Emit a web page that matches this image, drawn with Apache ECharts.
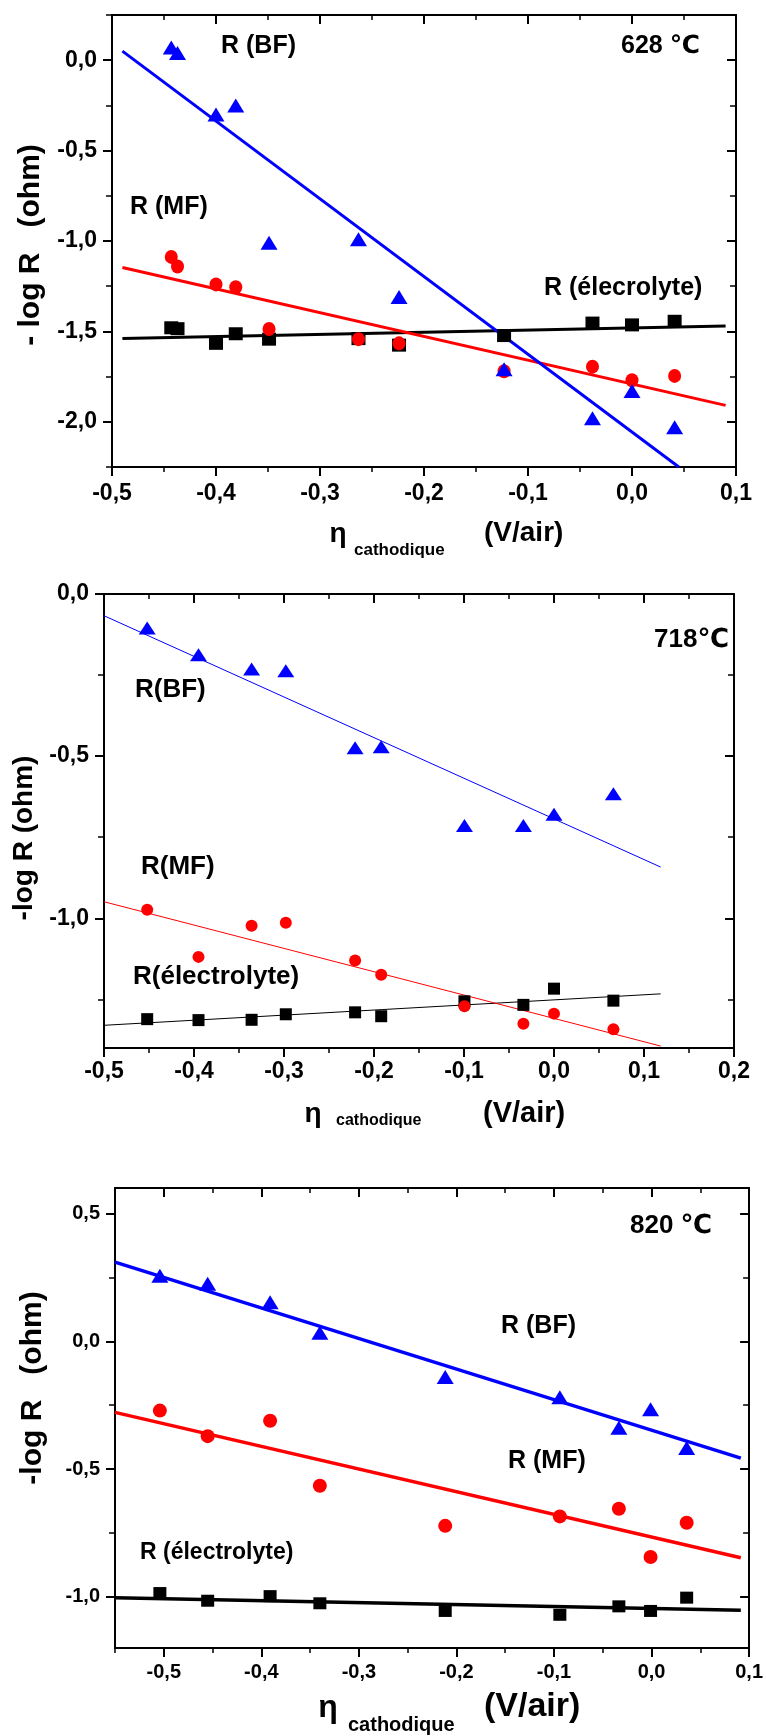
<!DOCTYPE html>
<html><head><meta charset="utf-8">
<script src="https://cdn.jsdelivr.net/npm/echarts@6/dist/echarts.min.js"></script>
<style>html,body{margin:0;padding:0;background:#fff}#c{width:766px;height:1736px}</style>
</head><body><div id="c"></div>
<script>
// ---------- 628 °C ----------
const eta628 = [-0.443, -0.437, -0.400, -0.381, -0.349, -0.263, -0.224, -0.123, -0.038, 0.000, 0.041];
const bf628  = [0.07, 0.04, -0.30, -0.25, -1.01, -0.99, -1.31, -1.71, -1.98, -1.83, -2.03];
const mf628  = [-1.088, -1.141, -1.24, -1.256, -1.487, -1.543, -1.566, -1.72, -1.695, -1.77, -1.746];
const el628  = [-1.48, -1.485, -1.566, -1.513, -1.543, -1.54, -1.576, -1.523, -1.454, -1.464, -1.444];
const fitBF628 = [[-0.49, 0.05], [0.045, -2.25]];
const fitMF628 = [[-0.49, -1.147], [0.09, -1.909]];
const fitEL628 = [[-0.49, -1.539], [0.09, -1.47]];
const xMajor628 = [-0.5, -0.4, -0.3, -0.2, -0.1, 0.0, 0.1];
const xMinor628 = [-0.5, -0.45, -0.4, -0.35, -0.3, -0.25, -0.2, -0.15, -0.1, -0.05, 0.0, 0.05, 0.1];
const yMajor628 = [0.0, -0.5, -1.0, -1.5, -2.0];
const yMinor628 = [0.25, 0.0, -0.25, -0.5, -0.75, -1.0, -1.25, -1.5, -1.75, -2.0, -2.25];

// ---------- 718 °C ----------
const eta718 = [-0.452, -0.395, -0.336, -0.298, -0.221, -0.192, -0.0995, -0.034, 0.000, 0.066];
const bf718  = [-0.105, -0.187, -0.231, -0.237, -0.474, -0.471, -0.714, -0.714, -0.679, -0.616];
const mf718  = [-0.974, -1.119, -1.023, -1.014, -1.130, -1.174, -1.271, -1.325, -1.294, -1.342];
const el718  = [-1.311, -1.314, -1.313, -1.296, -1.290, -1.302, -1.256, -1.267, -1.217, -1.254];
const fitBF718 = [[-0.5, -0.067], [0.1185, -0.842]];
const fitMF718 = [[-0.5, -0.949], [0.1185, -1.394]];
const fitEL718 = [[-0.5, -1.330], [0.1185, -1.233]];
const xMajor718 = [-0.5, -0.4, -0.3, -0.2, -0.1, 0.0, 0.1, 0.2];
const xMinor718 = [-0.5, -0.45, -0.4, -0.35, -0.3, -0.25, -0.2, -0.15, -0.1, -0.05, 0.0, 0.05, 0.1, 0.15, 0.2];
const yMajor718 = [0.0, -0.5, -1.0];
const yMinor718 = [0.0, -0.25, -0.5, -0.75, -1.0, -1.25];

// ---------- 820 °C ----------
const eta820 = [-0.504, -0.455, -0.391, -0.340, -0.2115, -0.094, -0.0335, -0.001, 0.036];
const bf820  = [0.257, 0.225, 0.153, 0.034, -0.140, -0.219, -0.338, -0.266, -0.417];
const mf820  = [-0.271, -0.371, -0.311, -0.565, -0.722, -0.685, -0.655, -0.844, -0.710];
const el820  = [-0.985, -1.015, -0.997, -1.025, -1.055, -1.070, -1.037, -1.055, -1.003];
const fitBF820 = [[-0.55, 0.310], [0.0915, -0.457]];
const fitMF820 = [[-0.55, -0.278], [0.0915, -0.847]];
const fitEL820 = [[-0.55, -1.003], [0.0915, -1.052]];
const xMajor820 = [-0.5, -0.4, -0.3, -0.2, -0.1, 0.0, 0.1];
const xMinor820 = [-0.55, -0.5, -0.45, -0.4, -0.35, -0.3, -0.25, -0.2, -0.15, -0.1, -0.05, 0.0, 0.05, 0.1];
const yMajor820 = [0.5, 0.0, -0.5, -1.0];
const yMinor820 = [0.5, 0.25, 0.0, -0.25, -0.5, -0.75, -1.0];

const FONT = "'Liberation Sans', Arial, 'DejaVu Sans', sans-serif";
const BLUE = '#0000FF', RED = '#FF0000', BLACK = '#000000';

function fmt(v) {
  let s = (Math.round(v * 10) / 10).toFixed(1);
  if (s === '-0.0') s = '0.0';
  return s.replace('.', ',');
}
function zip(xs, ys) { return xs.map((x, i) => [x, ys[i]]); }

const grids = [], xAxes = [], yAxes = [], series = [], graphic = [];

function addPanel(cfg) {
  const gi = grids.length;
  grids.push({ left: cfg.left, top: cfg.top, width: cfg.width, height: cfg.height, containLabel: false });
  const base = { type: 'value', gridIndex: gi, splitLine: { show: false } };
  const line = { show: true, onZero: false, lineStyle: { color: '#000', width: 2 } };
  const noLine = { show: false, onZero: false };
  const lab = (vals, margin, size) => ({ show: true, customValues: vals, formatter: fmt, margin: margin,
    fontSize: size, fontWeight: 'bold', fontFamily: FONT, color: '#000' });
  const tk = (vals, inside, len, w) => ({ show: true, inside: inside, length: len, customValues: vals,
    lineStyle: { color: '#000', width: w } });
  // x axes
  xAxes.push(Object.assign({}, base, { position: 'bottom', min: cfg.xmin, max: cfg.xmax, axisLine: line,
    axisTick: tk(cfg.xMajor, false, 9, 2), axisLabel: lab(cfg.xMajor, cfg.xMargin, cfg.tickFont) }));
  xAxes.push(Object.assign({}, base, { position: 'bottom', min: cfg.xmin, max: cfg.xmax, axisLine: noLine,
    axisTick: tk(cfg.xMinor, false, 5, 1.5), axisLabel: { show: false } }));
  xAxes.push(Object.assign({}, base, { position: 'top', min: cfg.xmin, max: cfg.xmax, axisLine: line,
    axisTick: tk(cfg.xMajor, true, 9, 2), axisLabel: { show: false } }));
  xAxes.push(Object.assign({}, base, { position: 'top', min: cfg.xmin, max: cfg.xmax, axisLine: noLine,
    axisTick: tk(cfg.xMinor, true, 5, 1.5), axisLabel: { show: false } }));
  // y axes
  yAxes.push(Object.assign({}, base, { position: 'left', min: cfg.ymin, max: cfg.ymax, axisLine: line,
    axisTick: tk(cfg.yMajor, false, 9, 2), axisLabel: lab(cfg.yMajor, cfg.yMargin, cfg.tickFont) }));
  yAxes.push(Object.assign({}, base, { position: 'left', min: cfg.ymin, max: cfg.ymax, axisLine: noLine,
    axisTick: tk(cfg.yMinor, false, 6, 1.5), axisLabel: { show: false } }));
  yAxes.push(Object.assign({}, base, { position: 'right', min: cfg.ymin, max: cfg.ymax, axisLine: line,
    axisTick: tk(cfg.yMajor, true, 9, 2), axisLabel: { show: false } }));
  yAxes.push(Object.assign({}, base, { position: 'right', min: cfg.ymin, max: cfg.ymax, axisLine: noLine,
    axisTick: tk(cfg.yMinor, true, 6, 1.5), axisLabel: { show: false } }));
  const xi = gi * 4, yi = gi * 4;
  const fitLine = (data, color) => ({ type: 'line', xAxisIndex: xi, yAxisIndex: yi, data: data, symbol: 'none',
    showSymbol: false, silent: true, z: 2, clip: true, lineStyle: { color: color, width: cfg.lineWidth, opacity: 1 }, animation: false });
  series.push(fitLine(cfg.fitEL, BLACK), fitLine(cfg.fitMF, RED), fitLine(cfg.fitBF, BLUE));
  const pts = (ys, sym, size, color, z) => ({ type: 'scatter', xAxisIndex: xi, yAxisIndex: yi,
    data: zip(cfg.eta, ys), symbol: sym, symbolSize: size, itemStyle: { color: color, opacity: 1 },
    emphasis: { disabled: true }, z: z, animation: false });
  series.push(pts(cfg.el, 'rect', cfg.sqSize, BLACK, 3));
  series.push(pts(cfg.mf, 'circle', cfg.ciSize, RED, 4));
  series.push(pts(cfg.bf, 'triangle', cfg.trSize, BLUE, 5));
}

function txt(s, x, y, size, align, rot) {
  graphic.push({ type: 'text', x: x, y: y, rotation: rot || 0, z: 10,
    style: { text: s, fontSize: size, fontWeight: 'bold', fontFamily: FONT, fill: '#000',
      align: align || 'left', verticalAlign: 'middle' } });
}

addPanel({ left: 112, top: 15, width: 624, height: 452, xmin: -0.5, xmax: 0.1, ymin: -2.25, ymax: 0.25,
  xMajor: xMajor628, xMinor: xMinor628, yMajor: yMajor628, yMinor: yMinor628, xMargin: 15, yMargin: 15, tickFont: 23,
  eta: eta628, bf: bf628, mf: mf628, el: el628, fitBF: fitBF628, fitMF: fitMF628, fitEL: fitEL628,
  lineWidth: 3, trSize: [17, 14], ciSize: [13, 14], sqSize: [14, 13] });
addPanel({ left: 104, top: 594, width: 630, height: 454, xmin: -0.5, xmax: 0.2, ymin: -1.4, ymax: 0.0,
  xMajor: xMajor718, xMinor: xMinor718, yMajor: yMajor718, yMinor: yMinor718, xMargin: 12, yMargin: 15, tickFont: 23,
  eta: eta718, bf: bf718, mf: mf718, el: el718, fitBF: fitBF718, fitMF: fitMF718, fitEL: fitEL718,
  lineWidth: 1, trSize: [17, 13], ciSize: [12, 12], sqSize: [12, 12] });
addPanel({ left: 115, top: 1188, width: 635, height: 460, xmin: -0.55, xmax: 0.1, ymin: -1.2, ymax: 0.6,
  xMajor: xMajor820, xMinor: xMinor820, yMajor: yMajor820, yMinor: yMinor820, xMargin: 14, yMargin: 15, tickFont: 20,
  eta: eta820, bf: bf820, mf: mf820, el: el820, fitBF: fitBF820, fitMF: fitMF820, fitEL: fitEL820,
  lineWidth: 3.5, trSize: [17, 14], ciSize: [14, 14], sqSize: [13, 12] });

// ---- texts: panel 1 ----
txt('R (BF)', 221, 46, 25);
txt('628 \u2103', 621, 46, 25);
txt('R (MF)', 130, 207, 25);
txt('R (\u00e9lecrolyte)', 544, 288, 25);
txt('- log R   (ohm)', 31, 245, 30, 'center', Math.PI / 2);
txt('\u03b7', 338, 534, 28, 'center');
txt('cathodique', 354, 550, 17);
txt('(V/air)', 484, 533, 28);
// ---- texts: panel 2 ----
txt('718\u2103', 654, 640, 26);
txt('R(BF)', 135, 690, 26);
txt('R(MF)', 141, 867, 26);
txt('R(\u00e9lectrolyte)', 133, 977, 26);
txt('-log R (ohm)', 24, 838, 28, 'center', Math.PI / 2);
txt('\u03b7', 313, 1114, 28, 'center');
txt('cathodique', 336, 1121, 16);
txt('(V/air)', 483, 1114, 29);
// ---- texts: panel 3 ----
txt('820 \u2103', 630, 1226, 26);
txt('R (BF)', 501, 1326, 25);
txt('R (MF)', 508, 1461, 25);
txt('R (\u00e9lectrolyte)', 140, 1553, 23);
txt('-log R   (ohm)', 33, 1388, 30, 'center', Math.PI / 2);
txt('\u03b7', 328, 1708, 32, 'center');
txt('cathodique', 348, 1725, 20);
txt('(V/air)', 484, 1707, 34);

const chart = echarts.init(document.getElementById('c'), null, { renderer: 'canvas' });
chart.setOption({
  backgroundColor: '#ffffff',
  animation: false,
  grid: grids, xAxis: xAxes, yAxis: yAxes, series: series, graphic: graphic
});
</script></body></html>
